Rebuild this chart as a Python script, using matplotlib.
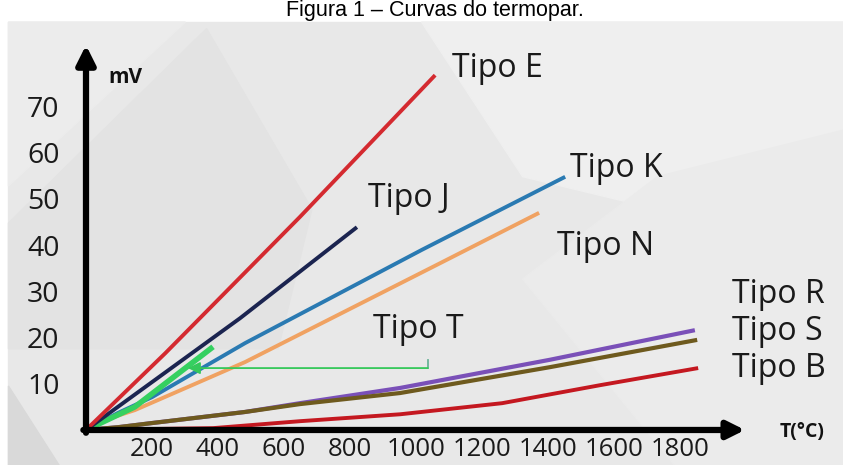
import numpy as np
import matplotlib.pyplot as plt
from matplotlib.patches import Rectangle, Polygon

# thermocouple curves (T in degC, emf in mV)
temp_E = [0, 240, 648, 1058]
mv_E = [0, 16.6, 46.1, 76.8]
temp_J = [0, 467, 733, 821]
mv_J = [0, 24.2, 39.0, 43.9]
temp_K = [0, 97, 200, 482, 1018, 1452]
mv_K = [0, 3.7, 7.1, 18.8, 39.0, 54.8]
temp_N = [0, 58, 148, 482, 1073, 1373]
mv_N = [0, 2.2, 4.3, 14.7, 36.1, 47.0]
temp_T = [0, 148, 385]
mv_T = [0, 5.0, 18.0]
temp_R = [0, 97, 200, 482, 648, 952, 1406, 1845]
mv_R = [0, 0.6, 1.5, 3.9, 5.8, 9.1, 15.2, 21.6]
temp_S = [0, 97, 200, 482, 648, 952, 1406, 1852]
mv_S = [0, 0.6, 1.5, 3.9, 5.6, 8.0, 13.6, 19.5]
temp_B = [0, 385, 648, 952, 1261, 1558, 1855]
mv_B = [0, 0.4, 1.9, 3.4, 5.8, 9.7, 13.4]

xticks = [200, 400, 600, 800, 1000, 1200, 1400, 1600, 1800]
yticks = [10, 20, 30, 40, 50, 60, 70]

# label name, anchor temperature, anchor mV (baseline)
labels = [('Tipo E', 1109, 76.4), ('Tipo K', 1467, 54.8), ('Tipo J', 855, 48.3),
          ('Tipo N', 1427, 37.9), ('Tipo T', 870, 19.9), ('Tipo R', 1958, 27.5),
          ('Tipo S', 1958, 19.5), ('Tipo B', 1958, 11.5)]

# Tipo T pointer: horizontal leader from label to curve
arrow_from = (1036, 13.4)
arrow_to = (309, 13.4)

fig = plt.figure(figsize=(8.43, 4.65), dpi=100)
fig.patch.set_facecolor('white')
ax = fig.add_axes([0, 0, 1, 1])
ax.set_xlim(-260.6, 2293.9)
ax.set_ylim(-7.58, 93.07)
ax.patch.set_visible(False)

# faceted grey backdrop (subtle)
top = 443 / 465
tr = ax.transAxes
ax.add_patch(Rectangle((8 / 843, 0), 1, top, transform=tr, color='#e8e8e8', zorder=0))
ax.add_patch(Polygon([(0.50, top), (1, top), (1, 0.70), (0.78, 0.55), (0.62, 0.62)], closed=True,
                     transform=tr, color='#efefef', zorder=0))
ax.add_patch(Polygon([(0.01, top), (0.22, top), (0.01, 0.60)], closed=True,
                     transform=tr, color='#ececec', zorder=0))
ax.add_patch(Polygon([(0.01, 0.52), (0.245, top * 0.985), (0.37, 0.55), (0.33, 0.25), (0.01, 0.25)],
                     closed=True, transform=tr, color='#e3e3e3', zorder=0))
ax.add_patch(Polygon([(0.01, 0.17), (0.07, 0.0), (0.01, 0.0)], closed=True,
                     transform=tr, color='#d9d9d9', zorder=0))
ax.add_patch(Polygon([(0.62, 0.40), (0.78, 0.62), (1, 0.72), (1, 0.0), (0.80, 0.0)], closed=True,
                     transform=tr, color='#ebebeb', zorder=0))

ax.plot(temp_R, mv_R, color='#7a50b8', lw=3.0, solid_capstyle='butt', zorder=3)
ax.plot(temp_S, mv_S, color='#6e5a1e', lw=3.0, solid_capstyle='butt', zorder=3)
ax.plot(temp_B, mv_B, color='#c41820', lw=2.8, solid_capstyle='butt', zorder=3)
ax.plot(temp_N, mv_N, color='#f0a262', lw=2.8, solid_capstyle='butt', zorder=3)
ax.plot(temp_K, mv_K, color='#2a7ab2', lw=2.8, solid_capstyle='butt', zorder=3)
ax.plot(temp_T, mv_T, color='#35d060', lw=4.0, solid_capstyle='butt', zorder=3)
ax.plot(temp_J, mv_J, color='#1b2450', lw=2.8, solid_capstyle='butt', zorder=3)
ax.plot(temp_E, mv_E, color='#d42a30', lw=2.8, solid_capstyle='butt', zorder=3)

ax.plot([arrow_from[0], arrow_from[0]], [arrow_from[1], arrow_from[1] + 1.7], color='#6ab398', lw=1.3, zorder=4)
ax.annotate('', xy=arrow_to, xytext=arrow_from,
            arrowprops=dict(arrowstyle='-|>', color='#5fb08f', lw=1.3, mutation_scale=18,
                            shrinkA=0, shrinkB=0, fc='#35c85a', ec='#35c85a'), zorder=4)

# axes with arrow heads
ax.annotate('', xy=(0, 83.3), xytext=(0, -0.6),
            arrowprops=dict(arrowstyle='-|>', color='black', lw=4.5, mutation_scale=28,
                            shrinkA=0, shrinkB=0), zorder=5)
ax.annotate('', xy=(1997, 0), xytext=(-8, 0),
            arrowprops=dict(arrowstyle='-|>', color='black', lw=4.5, mutation_scale=26,
                            shrinkA=0, shrinkB=0), zorder=5)

for sp in ax.spines.values():
    sp.set_visible(False)
ax.spines['left'].set_position(('data', 0))
ax.spines['bottom'].set_position(('data', 0))
ax.set_xticks(xticks)
ax.set_yticks(yticks)
ax.set_xticklabels([str(v) for v in xticks], fontsize=18.5, family='Open Sans', color='#1a1a1a')
ax.set_yticklabels([str(v) for v in yticks], fontsize=20.5, family='Open Sans', color='#1a1a1a')
ax.tick_params(axis='x', length=0, pad=5)
ax.tick_params(axis='y', length=0, pad=19)

for name, tx, ty in labels:
    ax.text(tx, ty, name, fontsize=23, family='Open Sans', color='#1a1a1a', va='baseline', ha='left', zorder=6)

ax.text(67, 75.1, 'mV', fontsize=15, fontweight='bold', family='Open Sans', color='#111111', va='baseline')
ax.text(2170, -0.4, 'T(°C)', fontsize=14, fontweight='bold', family='Open Sans', color='#111111',
        va='center', ha='center')

fig.text(0.516, 0.977, 'Figura 1 – Curvas do termopar.', fontsize=15.5, family='Liberation Sans',
         ha='center', va='center', color='black')

fig.savefig('out.png', dpi=100, facecolor='white')
